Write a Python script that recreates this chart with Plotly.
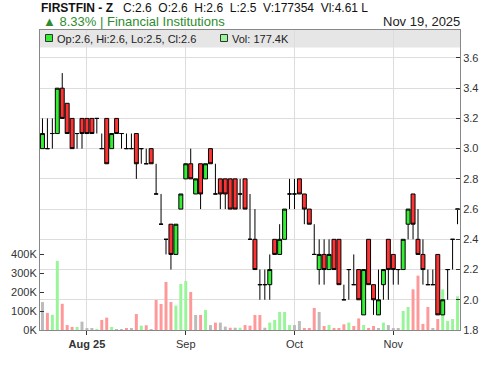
import pandas as pd
import plotly.graph_objects as go

# ---------------- data ----------------
SYMBOL = "FIRSTFIN - Z"
SECTOR = "Financial Institutions"
HOLIDAYS = ["2025-08-05", "2025-10-01", "2025-10-02"]
DATES = pd.bdate_range("2025-07-21", "2025-11-19", freq="C",
                       weekmask="Sun Mon Tue Wed Thu", holidays=HOLIDAYS)

OPEN = [3.0, 3.0, 3.1, 3.1, 3.4, 3.3, 3.2, 3.1, 3.2, 3.2, 3.2, 3.2, 3.0, 3.2, 3.0, 3.2, 3.1, 3.0, 3.0, 3.1,
        3.0, 2.9, 3.0, 2.7, 2.5, 2.4, 2.5, 2.3, 2.6, 2.8, 2.9, 2.7, 2.9, 2.8, 3.0, 2.7, 2.8, 2.8, 2.8, 2.8,
        2.7, 2.8, 2.4, 2.4, 2.1, 2.1, 2.1, 2.4, 2.3, 2.4, 2.7, 2.7, 2.8, 2.7, 2.6, 2.3, 2.2, 2.3, 2.2, 2.4,
        2.4, 2.0, 2.2, 2.1, 2.2, 1.9, 2.4, 2.1, 1.9, 2.1, 2.4, 2.3, 2.2, 2.2, 2.5, 2.7, 2.4, 2.3, 2.1, 2.1,
        2.3, 1.9, 2.2, 2.4, 2.6]
HIGH = [3.2, 3.2, 3.2, 3.4, 3.5, 3.3, 3.2, 3.1, 3.2, 3.2, 3.2, 3.2, 3.1, 3.2, 3.1, 3.2, 3.1, 3.1, 3.1, 3.1,
        3.0, 3.0, 3.0, 2.9, 2.7, 2.4, 2.5, 2.5, 2.7, 2.9, 3.0, 2.8, 2.9, 2.9, 3.0, 2.9, 2.8, 2.8, 2.8, 2.8,
        2.8, 2.8, 2.7, 2.6, 2.2, 2.2, 2.3, 2.4, 2.5, 2.6, 2.8, 2.8, 2.8, 2.7, 2.6, 2.5, 2.4, 2.4, 2.4, 2.4,
        2.4, 2.1, 2.2, 2.3, 2.2, 2.2, 2.4, 2.1, 2.2, 2.2, 2.4, 2.3, 2.2, 2.4, 2.6, 2.7, 2.6, 2.4, 2.2, 2.2,
        2.3, 2.0, 2.2, 2.4, 2.6]
LOW = [3.0, 3.0, 3.0, 3.1, 3.2, 3.1, 3.0, 3.0, 3.0, 3.1, 3.1, 3.1, 3.0, 2.9, 3.0, 3.1, 3.0, 3.0, 3.0, 2.8,
       2.9, 2.9, 2.9, 2.7, 2.5, 2.3, 2.2, 2.3, 2.6, 2.8, 2.8, 2.7, 2.6, 2.8, 2.9, 2.7, 2.6, 2.6, 2.6, 2.6,
       2.6, 2.6, 2.4, 2.2, 2.0, 2.0, 2.0, 2.3, 2.3, 2.4, 2.6, 2.6, 2.7, 2.5, 2.5, 2.3, 2.1, 2.1, 2.2, 2.2,
       2.1, 2.0, 2.0, 2.1, 2.0, 1.9, 2.1, 1.9, 1.9, 2.0, 2.0, 2.1, 2.1, 2.2, 2.4, 2.4, 2.3, 2.1, 2.1, 2.1,
       1.9, 1.9, 2.0, 2.2, 2.5]
CLOSE = [3.1, 3.0, 3.1, 3.4, 3.2, 3.1, 3.0, 3.1, 3.1, 3.1, 3.1, 3.2, 3.0, 2.9, 3.1, 3.1, 3.1, 3.0, 3.0, 2.9,
         3.0, 2.9, 2.9, 2.7, 2.5, 2.4, 2.3, 2.5, 2.7, 2.9, 2.8, 2.8, 2.7, 2.9, 2.9, 2.7, 2.7, 2.7, 2.6, 2.6,
         2.7, 2.6, 2.4, 2.2, 2.1, 2.1, 2.2, 2.3, 2.4, 2.6, 2.7, 2.7, 2.7, 2.6, 2.5, 2.3, 2.3, 2.2, 2.3, 2.2,
         2.1, 2.0, 2.2, 2.1, 2.0, 2.2, 2.1, 2.0, 2.0, 2.2, 2.2, 2.2, 2.2, 2.4, 2.6, 2.5, 2.3, 2.2, 2.1, 2.1,
         1.9, 2.0, 2.2, 2.4, 2.6]
VOLUME = [147000, 90000, 80000, 364000, 138000, 26000, 16000, 16000, 44000, 10000,
          10000, 2000, 53000, 65000, 16000, 2000, 5000, 9000, 9000, 84000,
          23000, 25000, 4000, 158000, 137000, 253000, 147000, 128000, 242000, 258000,
          200000, 79000, 79000, 105000, 26000, 39000, 39000, 18000, 12000, 12000,
          12000, 26000, 23000, 79000, 79000, 12000, 39000, 53000, 95000, 95000,
          26000, 26000, 47000, 9000, 9000, 116000, 95000, 21000, 26000, 9000,
          9000, 30000, 39000, 21000, 61000, 26000, 9000, 21000, 9000, 39000,
          26000, 6000, 6000, 100000, 121000, 214000, 286000, 32000, 121000, 10000,
          58000, 214000, 47000, 58000, 177354]
VOL_TICKS = [0, 100000, 200000, 300000, 400000]
VOL_TICK_TEXT = ["0K", "100K", "200K", "300K", "400K"]
PRICE_TICKS = [1.8, 2.0, 2.2, 2.4, 2.6, 2.8, 3.0, 3.2, 3.4, 3.6]

# ---------------- derived ----------------
N = len(CLOSE)
X = list(range(N))
month_starts, month_labels = [], []
for i, d in enumerate(DATES):
    if i > 0 and d.month != DATES[i - 1].month:
        month_starts.append(i)
        if not month_labels:
            month_labels.append("<b>" + d.strftime("%b %y") + "</b>")
        else:
            month_labels.append(d.strftime("%b"))

UP, DOWN, FLAT = "#33ee33", "#ff3333", "#999999"
UP_V, DOWN_V, FLAT_V = "#99f599", "#ff9999", "#bbbbbb"
vol_colors = []
for i in range(N):
    if i == 0 or CLOSE[i] == CLOSE[i - 1]:
        vol_colors.append(FLAT_V)
    elif CLOSE[i] > CLOSE[i - 1]:
        vol_colors.append(UP_V)
    else:
        vol_colors.append(DOWN_V)

FONT = "Liberation Sans, Arial, sans-serif"

fig = go.Figure()
fig.add_trace(go.Bar(x=X, y=VOLUME, marker=dict(color=vol_colors, line=dict(width=0)),
                     width=0.6, yaxis="y", showlegend=False, hoverinfo="skip"))
fig.add_trace(go.Candlestick(
    x=X, open=OPEN, high=HIGH, low=LOW, close=CLOSE, yaxis="y2",
    increasing=dict(fillcolor=UP, line=dict(color="black", width=1)),
    decreasing=dict(fillcolor=DOWN, line=dict(color="black", width=1)),
    whiskerwidth=0, showlegend=False))

last = N - 1
chg = (CLOSE[last] / CLOSE[last - 1] - 1) * 100
value_lakh = VOLUME[last] * CLOSE[last] / 1e5
sp2 = "\u00a0\u00a0"
line1 = (f"<b>{SYMBOL}</b>\u00a0\u00a0\u00a0C:{CLOSE[last]}{sp2}O:{OPEN[last]}{sp2}"
         f"H:{HIGH[last]}{sp2}L:{LOW[last]}{sp2}V:{VOLUME[last]}{sp2}Vl:{value_lakh:.2f} L")
arrow = "\u25b2" if chg >= 0 else "\u25bc"
line2 = f"{arrow} {chg:.2f}% | {SECTOR}"
date_txt = DATES[-1].strftime("%b %d, %Y").replace(" 0", " ")
leg1 = f"Op:{OPEN[last]}, Hi:{HIGH[last]}, Lo:{LOW[last]}, Cl:{CLOSE[last]}"
leg2 = f"Vol: {VOLUME[last] / 1000:.1f}K"

# plot area in px: x 40..460, y 30..330
def px(xp):
    return (xp - 40) / 420.0

def py(yp):
    return (330 - yp) / 300.0

annotations = [
    dict(text=line1, x=px(40), y=py(8), xanchor="left", yanchor="middle",
         font=dict(size=12, color="#111111", family=FONT)),
    dict(text=line2, x=px(42), y=py(21.5), xanchor="left", yanchor="middle",
         font=dict(size=13, color="#2e8b2e", family=FONT)),
    dict(text=date_txt, x=px(461), y=py(21.5), xanchor="right", yanchor="middle",
         font=dict(size=13, color="#222222", family=FONT)),
    dict(text=leg1, x=px(56), y=py(38.5), xanchor="left", yanchor="middle",
         font=dict(size=11, color="#222222", family=FONT)),
    dict(text=leg2, x=px(231), y=py(38.5), xanchor="left", yanchor="middle",
         font=dict(size=11, color="#222222", family=FONT)),
]
for a in annotations:
    a.update(xref="paper", yref="paper", showarrow=False, borderpad=0)

shapes = [
    dict(type="rect", xref="paper", yref="paper", x0=0, x1=1, y0=py(47.5), y1=1,
         fillcolor="#e6e6e6", line=dict(width=0), layer="below"),
    dict(type="rect", xref="paper", yref="paper", x0=px(45.5), x1=px(52.5), y0=py(41.5), y1=py(34.5),
         fillcolor=UP, line=dict(color="#333333", width=1)),
    dict(type="rect", xref="paper", yref="paper", x0=px(220.5), x1=px(227.5), y0=py(41.5), y1=py(34.5),
         fillcolor=UP_V, line=dict(color="#333333", width=1)),
]

fig.update_layout(
    width=500, height=366, autosize=False,
    margin=dict(l=40, r=40, t=30, b=36, pad=0),
    paper_bgcolor="white", plot_bgcolor="white",
    font=dict(family=FONT, size=11, color="#333333"),
    boxgap=0.2, boxgroupgap=0,
    bargap=0.4,
    xaxis=dict(range=[-0.5, N - 0.5], tickvals=month_starts, ticktext=month_labels,
               showgrid=True, gridcolor="#dddddd", gridwidth=1,
               showline=True, linecolor="#888888", linewidth=1, mirror=True,
               ticks="outside", ticklen=4, tickcolor="#333333",
               tickfont=dict(size=11, color="#333333"),
               rangeslider=dict(visible=False), zeroline=False, fixedrange=True),
    yaxis=dict(side="left", range=[0, 1579000], tickvals=VOL_TICKS, ticktext=VOL_TICK_TEXT,
               showgrid=False, zeroline=False, showline=True, linecolor="#888888", linewidth=1,
               ticks="inside", ticklen=4, tickcolor="#333333",
               tickfont=dict(size=11, color="#333333")),
    yaxis2=dict(side="right", overlaying="y", range=[1.8, 3.785], tickvals=PRICE_TICKS,
                tickformat=".1f", showgrid=True, gridcolor="#dddddd", gridwidth=1,
                zeroline=False, showline=True, linecolor="#888888", linewidth=1,
                ticks="inside", ticklen=4, tickcolor="#333333",
                tickfont=dict(size=11, color="#333333")),
    annotations=annotations, shapes=shapes,
)

fig.write_html("out.html")
